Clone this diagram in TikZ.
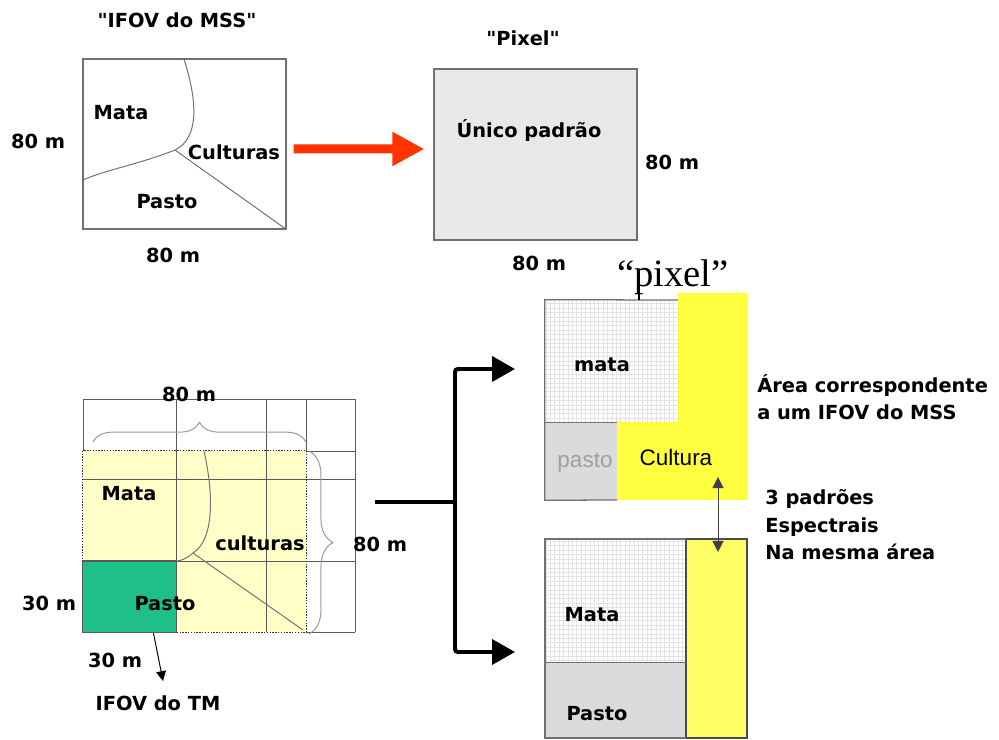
\documentclass[tikz,border=0pt]{standalone}
\usepackage{fontspec}
\setmainfont{DejaVu Sans}[Ligatures=TeXOff]
\newfontfamily\arialfont{Liberation Sans}
\newfontfamily\timesfont{Liberation Serif}
\usetikzlibrary{arrows.meta,positioning,fit,calc,decorations.pathreplacing}
\definecolor{mssyellow}{HTML}{FFFFC8}
\definecolor{tmgreen}{HTML}{1FBF8C}
\definecolor{culyellow}{HTML}{FFFF40}
\definecolor{culbar}{HTML}{FFFF66}
\definecolor{arrowred}{HTML}{FF3300}
\definecolor{edge}{HTML}{707070}

\begin{document}
\begin{tikzpicture}[x=0.025cm, y=-0.025cm,
  every node/.style={font=\fontsize{13.8}{16}\selectfont\bfseries},
  area/.style={fit={#1}, inner sep=0pt},
  box/.style={draw=edge, line width=0.9pt},
  gline/.style={draw=black!65, line width=0.6pt},
  bord/.style={black!80, line width=1pt, densely dotted},
  brc/.style={decorate, decoration={brace, amplitude=#1}, draw=gray!80, line width=0.7pt},
  fat/.style={line width=2.8pt, rounded corners=2pt},
  mesh/.style={draw=gray!22, line width=0.35pt, step=0.11cm},
  lines/.style={font=\fontsize{13.8}{19.6}\selectfont\bfseries, anchor=west, align=left, inner sep=0pt}]

  \useasboundingbox (0,0) rectangle (999,740);

  % ---- IFOV do MSS ----
  \node[area={(83,59) (286,229)}, box] (ifov) {};
  \draw[edge, line width=0.7pt] (184,59) .. controls (197,100) and (200,138) .. (175,150) coordinate (fork)
    .. controls (140,164) and (105,170) .. (83,180);
  \draw[edge, line width=0.7pt] (fork) -- (ifov.south east);
  \node (titMSS) at (177,20) {"IFOV do MSS"};
  \node (mataA)  at (121,113) {Mata};
  \node (cultA)  at (234,152) {Culturas};
  \node (pastoA) at (167,202) {Pasto};
  \node (sideA)  at (38,141)  {80 m};
  \node (baseA)  at (173,255) {80 m};

  % ---- Pixel ----
  \node[area={(434,69) (637,240)}, box, fill=gray!18] (pixel) {};
  \node (titPix) at (523,38)  {"Pixel"};
  \node (unico)  at (529,131) {Único padrão};
  \node (sideP)  at (672,162) {80 m};
  \node (baseP)  at (539,263) {80 m};

  \draw[arrowred, line width=6.4pt, -{Triangle[length=0.8cm, width=0.8cm]}]
    ($(ifov.east)+(7,5)$) -- ($(pixel.west)+(-9,-5.5)$);

  % ---- TM grid ----
  \fill[mssyellow] (83,451) rectangle (306,632);
  \fill[tmgreen] (83,561) rectangle (176,632);
  \node[area={(83,451) (306,632)}] (mss) {};
  \node[area={(83,561) (176,632)}] (tm) {};
  \node[area={(83,399) (355,632)}] (grid) {};
  \foreach \gx in {176,266,355}
    \draw[gline] (\gx,399) -- (\gx,632);
  \foreach \gy in {399,479,561}
    \draw[gline] (83,\gy) -- (355,\gy);
  \draw[gline] (83,451) -- (83,399);
  \draw[gline] (306,399) -- (306,451) -- (355,451);
  \draw[gline] (306,632) -- (355,632);
  \draw[bord] (mss.north west) rectangle (mss.south east);
  \draw[gline] (tm.north west) rectangle (tm.south east);
  \draw[black!55, line width=0.7pt] (204,451) .. controls (214,495) and (214,540) .. (193,553) coordinate (fork2)
    .. controls (187,558) and (182,561) .. (176,561);
  \draw[black!55, line width=0.7pt] (fork2) -- (303,630);
  \draw[brc=14pt] (93,442) -- (306,442);
  \draw[brc=17pt] (309,451) -- (309,634);

  \node (topG)   at (189,394) {80 m};
  \node (sideG)  at (380,544) {80 m};
  \node (mataG)  at (129,494) {Mata};
  \node (cultG)  at (260,543) {culturas};
  \node (pastoG) at (165,604) {Pasto};
  \node (sideT)  at (49,603)  {30 m};
  \node (baseT)  at (115,660) {30 m};
  \node (tmlbl)  at (158,703) {IFOV do TM};
  \coordinate (tmtip) at (163,681);
  \draw[line width=0.7pt, -{Triangle[length=7pt, width=7pt]}] ($(tm.south)+(24,1)$) -- (tmtip);

  % ---- Split arrows ----
  \coordinate (bstart) at (375,502);
  \coordinate (split) at (455,502);
  \coordinate (tipA) at (515,369);
  \coordinate (tipB) at (515,652);
  \draw[fat] (bstart) -- (split);
  \draw[fat, -{Triangle[length=0.57cm, width=0.62cm]}] (split) |- (tipA);
  \draw[fat, -{Triangle[length=0.57cm, width=0.62cm]}] (split) |- (tipB);

  % ---- Pixel of the TM over one MSS IFOV ----
  \draw[mesh] (545,422) grid (678,300);
  \fill[gray!28] (545,422) rectangle (617,500);
  \fill[culyellow] (678,293) -- (748,293) -- (748,500) -- (617,500) -- (617,422) -- (678,422) -- cycle;
  \node[area={(545,300) (748,500)}] (pixA) {};
  \draw[edge, line width=0.9pt] (678,300) -- (pixA.north west) -- (pixA.south west) -- (617,500);
  \draw[edge, line width=0.6pt] (545,422) -- (617,422);
  \draw[line width=0.8pt] (639,300) -- (639,293);
  \node[font=\timesfont\fontsize{27.5}{30}\selectfont] (pixlbl) at (673,277) {“pixel”};
  \node (mataP) at (602,365) {mata};
  \node[font=\arialfont\fontsize{16}{19}\selectfont, text=gray!75] (pastoP) at (585,463) {pasto};
  \node[font=\arialfont\fontsize{16}{19}\selectfont] (cultP) at (676,457) {Cultura};
  \node[lines] (areaTxt) at (757,397) {Área correspondente\\a um IFOV do MSS};

  % ---- Three spectral patterns ----
  \draw[mesh] (545,662) grid (686,539);
  \fill[gray!28] (545,662) rectangle (686,738);
  \node[area={(686,539) (747,738)}, draw=black!70, line width=0.9pt, fill=culbar] (culB) {};
  \draw[edge, line width=0.9pt] (686,539) -- (545,539) -- (545,738) -- (686,738);
  \draw[edge, line width=0.6pt] (545,662) -- (686,662);
  \node (mataB)  at (592,615) {Mata};
  \node (pastoB) at (597,714) {Pasto};
  \node[lines] (padTxt) at (765,525) {3 padrões\\Espectrais\\Na mesma área};

  \coordinate (dA) at (718,477);
  \coordinate (dB) at (718,552);
  \draw[black!75, line width=0.7pt, {Triangle[length=8pt, width=8pt]}-{Triangle[length=8pt, width=8pt]}] (dA) -- (dB);
\end{tikzpicture}
\end{document}
